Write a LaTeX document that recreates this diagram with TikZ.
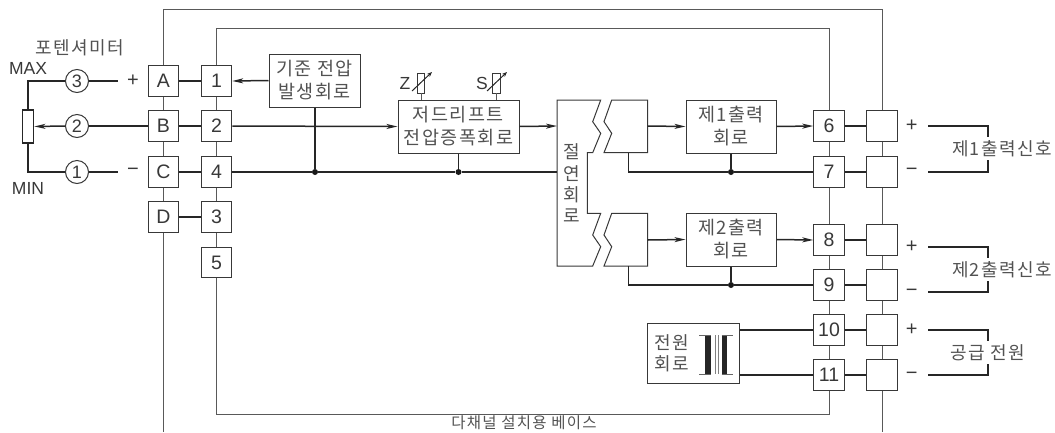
\documentclass[tikz,border=0pt]{standalone}
\usepackage{fontspec}
\setmainfont{Liberation Sans}
\newfontfamily\kr[LetterSpace=8]{Noto Sans CJK KR}
\usetikzlibrary{arrows.meta}
\colorlet{ink}{black!78}
\colorlet{krink}{black!68}
\tikzset{
  x=1pt,y=-1pt,
  term/.style={draw=ink,line width=1pt,fill=white,minimum size=30.5pt,inner sep=0pt,text=ink,font=\fontsize{19.5}{19.5}\selectfont},
  block/.style={draw=ink,line width=1pt,fill=white,inner sep=0pt,text=krink,align=center,font=\kr\fontsize{18.5}{23}\selectfont},
  circ/.style={draw=ink,line width=1pt,circle,fill=white,minimum size=23pt,inner sep=0pt,text=ink,font=\fontsize{18}{18}\selectfont},
  lbl/.style={inner sep=0pt,text=ink,font=\fontsize{17.5}{17.5}\selectfont},
  klbl/.style={inner sep=0pt,text=krink,align=center,font=\kr\fontsize{18}{22}\selectfont},
  sign/.style={inner sep=0pt,text=ink,font=\fontsize{20}{20}\selectfont},
  wire/.style={draw=black!85,line width=1.5pt},
  bus/.style={draw=black!65,line width=1pt},
  arr/.style={wire,-{Stealth[length=11pt,width=5pt,inset=3pt]}},
  jdot/.style={circle,fill=black!90,minimum size=6pt,inner sep=0pt},
  outl/.style={draw=ink,line width=1pt,fill=white},
}
\begin{document}
\begin{tikzpicture}
\useasboundingbox (0,0) rectangle (1055,432);
% terminals
\node[term] (A) at (163.5,81) {A};
\node[term] (B) at (163.5,126) {B};
\node[term] (C) at (163.5,172) {C};
\node[term] (D) at (163.5,217) {D};
\node[term] (t1) at (216.5,81) {1};
\node[term] (t2) at (216.5,126) {2};
\node[term] (t4) at (216.5,172) {4};
\node[term] (t3) at (216.5,217) {3};
\node[term] (t5) at (216.5,262.5) {5};
\node[term] (t6) at (829,126) {6};
\node[term] (t7) at (829,172) {7};
\node[term] (t8) at (829,240) {8};
\node[term] (t9) at (829,285) {9};
\node[term] (t10) at (829,330) {10};
\node[term] (t11) at (829,375) {11};
\node[term] (r6) at (882,126) {};
\node[term] (r7) at (882,172) {};
\node[term] (r8) at (882,240) {};
\node[term] (r9) at (882,285) {};
\node[term] (r10) at (882,330) {};
\node[term] (r11) at (882,375) {};
% blocks
\node[block,minimum width=91pt,minimum height=53pt] (ref) at (314.5,80.5) {기준 전압\\발생회로};
\node[block,minimum width=121pt,minimum height=53pt] (amp) at (458.5,126.5) {저드리프트\\전압증폭회로};
\node[block,minimum width=90pt,minimum height=53pt] (o1) at (731,126.5) {제1출력\\회로};
\node[block,minimum width=90pt,minimum height=53pt] (o2) at (731,239.5) {제2출력\\회로};
\node[block,minimum width=92pt,minimum height=60pt] (psu) at (693,353) {};
% potentiometer
\node[draw=black!85,line width=1.3pt,fill=white,minimum width=11.5pt,minimum height=33pt,inner sep=0pt] (pot) at (28,126.5) {};
\node[circ] (c3) at (77,81) {3};
\node[circ] (c2) at (77,126) {2};
\node[circ] (c1) at (77,172) {1};
\node[klbl] (ptitle) at (80,48) {포텐셔미터};
\node[lbl] (max) at (28,68) {MAX};
\node[lbl] (min) at (28,188) {MIN};
\node[sign] (pl) at (133,81) {+};
\node[sign] (mi) at (133,172) {−};
\coordinate (e3) at (118,81);
\coordinate (e1) at (118,172);
% busbars
\coordinate (ot1) at (163.5,9); \coordinate (ot2) at (882,9);
\coordinate (it1) at (216.5,28); \coordinate (it2) at (829,28);
\coordinate (ib1) at (216.5,414); \coordinate (ib2) at (829,414);
\coordinate (obl) at (163.5,432); \coordinate (obr) at (882,432);
\draw[bus] (A.north) -- (ot1) -- (ot2) -- (r6.north);
\draw[bus] (t1.north) -- (it1) -- (it2) -- (t6.north);
\draw[bus] (A)--(B); \draw[bus] (B)--(C); \draw[bus] (C)--(D); \draw[bus] (D.south)--(obl);
\draw[bus] (t1)--(t2); \draw[bus] (t2)--(t4); \draw[bus] (t4)--(t3); \draw[bus] (t3)--(t5);
\draw[bus] (t5.south)--(ib1)--(ib2)--(t11.south);
\draw[bus] (t6)--(t7); \draw[bus] (t7)--(t8); \draw[bus] (t8)--(t9); \draw[bus] (t9)--(t10); \draw[bus] (t10)--(t11);
\draw[bus] (r6)--(r7); \draw[bus] (r7)--(r8); \draw[bus] (r8)--(r9); \draw[bus] (r9)--(r10); \draw[bus] (r10)--(r11); \draw[bus] (r11.south)--(obr);
% left wiring
\draw[wire] (c3.west) -| (pot.north);
\draw[wire] (c1.west) -| (pot.south);
\draw[wire] (c3.east) -- (e3);
\draw[wire] (c1.east) -- (e1);
\draw[arr] (c2.west) -- (pot.east);
\draw[wire] (B.west) -- (c2.east);
\draw[wire] (A) -- (t1);
\draw[wire] (B) -- (t2);
\draw[wire] (C) -- (t4);
\draw[wire] (D) -- (t3);
\draw[arr] (ref.west) -- (t1.east);
% isolation shape
\coordinate (i1) at (557,126);
\coordinate (i2) at (557,172);
\draw[outl] (557,100) -- (600.7,100) -- (592.7,121.7) -- (600.7,133.3) -- (592.7,152.7) -- (587.3,152.7) -- (587.3,213.3) -- (600.7,213.3) -- (592.7,235) -- (600.7,246.7) -- (592.7,266) -- (557,266) -- cycle;
\draw[outl] (611.7,100) -- (604,121.7) -- (611.7,133.3) -- (604,152.7) -- (647.7,152.7) -- (647.7,100) -- cycle;
\draw[outl] (611.7,213.3) -- (604,235) -- (611.7,246.7) -- (604,266) -- (647.7,266) -- (647.7,213.3) -- cycle;
\coordinate (s1o) at (647.7,126); \coordinate (s1g) at (628.7,152.7);
\coordinate (s2o) at (647.7,240); \coordinate (s2g) at (628.7,266);
\node[klbl] (iso1) at (571.7,152) {절};
\node[klbl] (iso2) at (571.7,174) {연};
\node[klbl] (iso3) at (571.7,195) {회};
\node[klbl] (iso4) at (571.7,216) {로};
% mid wiring
\node[jdot] (j1) at (315,172) {};
\node[jdot] (j2) at (458.5,172) {};
\node[jdot] (j3) at (731,172) {};
\node[jdot] (j4) at (731,285) {};
\draw[wire] (ref.south -| j1) -- (j1);
\draw[wire] (amp.south -| j2) -- (j2);
\draw[wire] (t4) -- (j1) -- (j2) -- (i2);
\draw[arr] (t2) -- (amp.west);
\draw[arr] (amp.east) -- (i1);
\draw[arr] (s1o) -- (o1.west);
\draw[arr] (o1.east) -- (t6.west);
\draw[arr] (s2o) -- (o2.west);
\draw[arr] (o2.east) -- (t8.west);
\draw[wire] (s1g) |- (j3) -- (t7.west);
\draw[wire] (s2g) |- (j4) -- (t9.west);
\draw[wire] (o1.south -| j3) -- (j3);
\draw[wire] (o2.south -| j4) -- (j4);
\draw[wire] (t6)--(r6); \draw[wire] (t7)--(r7); \draw[wire] (t8)--(r8); \draw[wire] (t9)--(r9); \draw[wire] (t10)--(r10); \draw[wire] (t11)--(r11);
\draw[wire] (psu.east |- t10) -- (t10.west);
\draw[wire] (psu.east |- t11) -- (t11.west);
% trim pots
\node[draw=ink,line width=.9pt,fill=white,minimum width=7.5pt,minimum height=20pt,inner sep=0pt] (zp) at (421,83) {};
\node[draw=ink,line width=.9pt,fill=white,minimum width=7.5pt,minimum height=20pt,inner sep=0pt] (sp) at (496.5,83) {};
\draw[bus] (zp.south) -- (zp.south |- amp.north);
\draw[bus] (sp.south) -- (sp.south |- amp.north);
\coordinate (za) at (412,91); \coordinate (zb) at (432,72);
\coordinate (sa) at (487,91); \coordinate (sb) at (507,72);
\draw[line width=1pt,black!85,-{Stealth[length=5pt,width=4pt]}] (za) -- (zb);
\draw[line width=1pt,black!85,-{Stealth[length=5pt,width=4pt]}] (sa) -- (sb);
\node[lbl] (zl) at (405,83) {Z};
\node[lbl] (sl) at (482,83) {S};
% power text and transformer
\node[klbl] (pw1) at (672,343) {전원};
\node[klbl] (pw2) at (672,364) {회로};
\fill[black!85] (705,334.7) rectangle (711,374);
\fill[black!85] (721.7,334.7) rectangle (726.7,374);
\draw[black!60,line width=.8pt] (699,335) -- (711,335) (699,374) -- (711,374) (721.7,335) -- (732.7,335) (721.7,374) -- (732.7,374);
\draw[black!50,line width=.8pt] (715,335) -- (715,374) (718,335) -- (718,374);
% right outputs
\node[sign] (p1) at (911.7,126) {+};
\node[sign] (m1) at (911.7,172) {−};
\node[sign] (p2) at (911.7,247) {+};
\node[sign] (m2) at (911.7,293) {−};
\node[sign] (p3) at (911.7,330) {+};
\node[sign] (m3) at (911.7,376) {−};
\node[klbl] (s1) at (1002,149) {제1출력신호};
\node[klbl] (s2) at (1002,270) {제2출력신호};
\node[klbl] (s3) at (988,353) {공급 전원};
\coordinate (a1) at (928,126); \coordinate (a1b) at (988,137);
\coordinate (b1) at (928,172); \coordinate (b1b) at (988,160);
\coordinate (a2) at (928,247); \coordinate (a2b) at (988,258);
\coordinate (b2) at (928,292); \coordinate (b2b) at (988,281);
\coordinate (a3) at (928,330); \coordinate (a3b) at (988,341);
\coordinate (b3) at (928,375); \coordinate (b3b) at (988,364);
\draw[wire] (a1) -| (a1b); \draw[wire] (b1) -| (b1b);
\draw[wire] (a2) -| (a2b); \draw[wire] (b2) -| (b2b);
\draw[wire] (a3) -| (a3b); \draw[wire] (b3) -| (b3b);
\node[inner sep=0pt,text=krink,font=\kr\fontsize{15.5}{16}\selectfont] (base) at (524,423) {다채널 설치용 베이스};
\end{tikzpicture}
\end{document}
